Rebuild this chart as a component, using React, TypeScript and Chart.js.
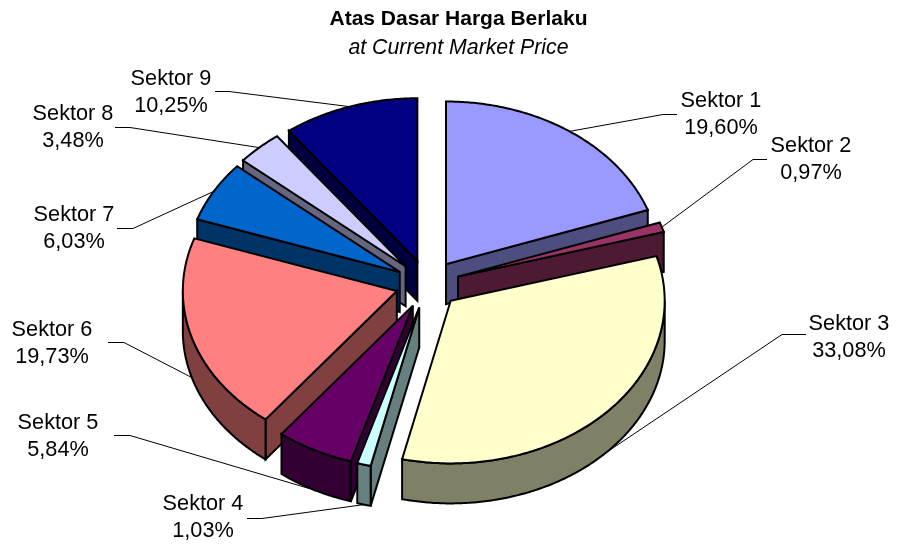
import React, { useEffect, useRef } from "react";
import { Chart, registerables } from "chart.js";

Chart.register(...registerables);

const categories = ["Sektor 1", "Sektor 2", "Sektor 3", "Sektor 4", "Sektor 5", "Sektor 6", "Sektor 7", "Sektor 8", "Sektor 9"];
const shares = [19.6, 0.97, 33.08, 1.03, 5.84, 19.73, 6.03, 3.48, 10.25];
const topColors = ["#9999FF", "#993366", "#FFFFCC", "#CCFFFF", "#660066", "#FF8080", "#0066CC", "#CCCCFF", "#000080"];
const wallColors = ["#4D4D80", "#4D1933", "#808066", "#668080", "#330033", "#804040", "#003366", "#666680", "#000040"];

const titleText = "Atas Dasar Harga Berlaku";
const subtitleText = "at Current Market Price";

const FONT = "'Liberation Sans', Arial, sans-serif";
const LABEL_SIZE = 21.7;
const PIE = { x: 427.5, y: 284, squash: 0.76, depth: 40, radius: 214, explode: 32 };

// Label text centres and the two outer points of each leader line.
const labelCentres = [[721, 101], [811, 146], [849, 324], [203, 504], [58, 423], [52, 330], [74, 215], [73, 114], [171, 79]];
const leaderStarts = [[677, 115], [767, 160], [806, 335], [247, 519], [114, 436], [108, 343], [117, 229], [115, 128], [215, 92]];
const leaderElbows = [[663, 115], [753, 160], [782, 335], [262, 519], [130, 436], [124, 343], [133, 229], [130, 128], [229, 92]];

const formatShare = (v: number) => v.toFixed(2).replace(".", ",") + "%";

const piePlugin = {
  id: "pie3d",
  beforeDatasetDraw(chart: any) {
    const { ctx } = chart;
    const arcs = chart.getDatasetMeta(0).data;
    const geo = arcs.map((el: any, i: number) => {
      const off = el.options.offset;
      const mid = (el.startAngle + el.endAngle) / 2;
      const ox = Math.cos(mid) * off;
      const oy = Math.sin(mid) * off;
      const pt = (ang: number, r: number, z: number) => [
        PIE.x + ox + Math.cos(ang) * r,
        PIE.y + (oy + Math.sin(ang) * r) * PIE.squash + z * PIE.depth,
      ];
      return { i, mid, start: el.startAngle, end: el.endAngle, r: el.outerRadius, pt };
    });

    const path = (pts: number[][], fill: string) => {
      ctx.beginPath();
      pts.forEach((p, idx) => (idx ? ctx.lineTo(p[0], p[1]) : ctx.moveTo(p[0], p[1])));
      ctx.closePath();
      ctx.fillStyle = fill;
      ctx.fill();
      ctx.stroke();
    };
    const rim = (g: any, a: number, b: number, z: number) => {
      const pts: number[][] = [];
      const n = Math.max(2, Math.ceil(Math.abs(b - a) / 0.01));
      for (let k = 0; k <= n; k++) pts.push(g.pt(a + ((b - a) * k) / n, g.r, z));
      return pts;
    };

    ctx.save();
    ctx.strokeStyle = "#000";
    ctx.lineWidth = 2;
    ctx.lineJoin = "miter";
    ctx.miterLimit = 4;

    // Back slices first, front slices last.
    const order = [...geo].sort((a: any, b: any) => Math.sin(a.mid) - Math.sin(b.mid));
    order.forEach((g: any) => {
      const wall = wallColors[g.i];
      // Radial walls are visible only when they face the viewer.
      if (Math.cos(g.start) < -1e-6) {
        path([g.pt(0, 0, 0), g.pt(g.start, g.r, 0), g.pt(g.start, g.r, 1), g.pt(0, 0, 1)], wall);
      }
      if (Math.cos(g.end) > 1e-6) {
        path([g.pt(0, 0, 0), g.pt(g.end, g.r, 0), g.pt(g.end, g.r, 1), g.pt(0, 0, 1)], wall);
      }
      // Outer wall: only the part of the rim on the near side.
      const a = Math.max(g.start, 0);
      const b = Math.min(g.end, Math.PI);
      if (b > a) {
        path([...rim(g, a, b, 0), ...rim(g, b, a, 1)], wall);
      }
      path([g.pt(0, 0, 0), ...rim(g, g.start, g.end, 0)], topColors[g.i]);
    });

    // Leader lines end on the rim at the middle of each slice.
    ctx.lineWidth = 1;
    ctx.strokeStyle = "#000";
    geo.forEach((g: any) => {
      const end = g.pt(g.mid, g.r, Math.sin(g.mid) > 0 ? 1 : 0);
      ctx.beginPath();
      ctx.moveTo(leaderStarts[g.i][0], leaderStarts[g.i][1] - 0.5);
      ctx.lineTo(leaderElbows[g.i][0], leaderElbows[g.i][1] - 0.5);
      ctx.lineTo(end[0], end[1]);
      ctx.stroke();
    });

    // Labels
    ctx.fillStyle = "#000";
    ctx.font = `${LABEL_SIZE}px ${FONT}`;
    ctx.textAlign = "center";
    ctx.textBaseline = "middle";
    categories.forEach((name, i) => {
      const [x, y] = labelCentres[i];
      ctx.fillText(name, x, y);
      ctx.fillText(formatShare(shares[i]), x, y + 27);
    });
    ctx.restore();
    return false;
  },
};

export default function App() {
  const ref = useRef<HTMLCanvasElement>(null);
  useEffect(() => {
    document.body.style.margin = "0";
    const chart = new Chart(ref.current!, {
      type: "pie",
      data: {
        labels: categories,
        datasets: [{ data: shares, backgroundColor: topColors, offset: PIE.explode, borderWidth: 0 }],
      },
      options: {
        responsive: false,
        animation: false,
        radius: PIE.radius,
        layout: { padding: { left: 20 } },
        plugins: {
          legend: { display: false },
          tooltip: { enabled: false },
          title: {
            display: true,
            text: titleText,
            color: "#000",
            font: { family: FONT, size: 21, weight: "bold" },
            padding: { top: 7, bottom: 0 },
          },
          subtitle: {
            display: true,
            text: subtitleText,
            color: "#000",
            font: { family: FONT, size: 21.3, style: "italic", weight: "normal" },
            padding: { top: 3, bottom: 0 },
          },
        },
      },
      plugins: [piePlugin],
    } as any);
    return () => chart.destroy();
  }, []);
  return <canvas ref={ref} width={897} height={548} style={{ display: "block" }} />;
}
